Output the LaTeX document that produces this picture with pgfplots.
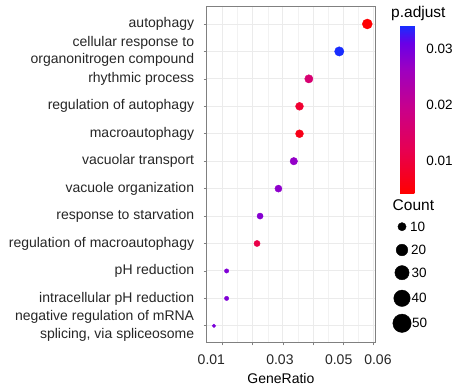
\documentclass[border=0pt]{standalone}
\usepackage{pgfplots}
\usepackage{pgfplotstable}
\pgfplotsset{compat=1.18}
\usepackage{fontspec}
\setmainfont{Liberation Sans}

\pgfplotstableread{
y ratio count padj
12 0.0580 16 0.0045
11 0.0487 14 0.0341
10 0.0386 11 0.0160
9  0.0355 10 0.0088
8  0.0355 10 0.0064
7  0.0336 9  0.0272
6  0.0285 8  0.0278
5  0.0224 6  0.0285
4  0.0214 6  0.0110
3  0.0113 3  0.0290
2  0.0113 3  0.0290
1  0.0071 2  0.0295
}\godata

\pgfplotstableread{
x y count lx
402 160.3 10 410.0
402 137.0 20 411.0
402 114.3 30 411.5
402 88.7 40 411.5
402 63.7 50 411.8
}\sizelegend

\pgfplotsset{colormap={padj}{rgb255(0cm)=(255,0,0) rgb255(5cm)=(232,0,79) rgb255(10cm)=(202,0,137) rgb255(15cm)=(155,0,195) rgb255(18cm)=(104,0,231) rgb255(20cm)=(25,45,255)}}

\newcommand{\axfont}{\fontsize{14}{17.3}\selectfont}
\newcommand{\lgtitle}{\fontsize{15.5}{18}\selectfont}
\newcommand{\lgfont}{\fontsize{13.5}{16}\selectfont}

\begin{document}
\begin{tikzpicture}
\useasboundingbox (0,0) rectangle (461pt,387pt);
\begin{axis}[
  at={(206.7pt,44.7pt)}, anchor=south west,
  scale only axis, width=168.3pt, height=335.6pt,
  xmin=0.00469, xmax=0.06056, ymin=0.4, ymax=12.63,
  xtick={0.01,0.02,0.03,0.04,0.05,0.06},
  scaled x ticks=false, scaled y ticks=false,
  xticklabels={\makebox[0pt][r]{0.01\kern-2.3pt},,\makebox[0pt]{0.03\kern6pt},,\makebox[0pt]{0.05\kern9pt},\makebox[0pt][l]{\kern-9pt0.06}},
  minor x tick num=1,
  ytick={1,...,12},
  yticklabels={{negative regulation of mRNA\\splicing, via spliceosome},
    intracellular pH reduction, pH reduction, regulation of macroautophagy,
    response to starvation, vacuole organization, vacuolar transport,
    macroautophagy, regulation of autophagy, rhythmic process,
    {cellular response to\\organonitrogen compound}, autophagy},
  grid=both,
  major grid style={color=black!8, line width=0.9pt},
  minor grid style={color=black!5, line width=0.6pt},
  axis line style={black!50, line width=0.7pt},
  tick style={black!50, line width=0.7pt},
  major tick length=3pt, minor tick length=0pt, tick align=outside,
  xtick pos=bottom, ytick pos=left,
  xticklabel style={anchor=north, inner sep=0pt, yshift=-9.4pt, font=\axfont, text=black!85},
  yticklabel style={anchor=east, inner sep=0pt, xshift=-9.4pt, align=right, font=\axfont, text=black!85},
  xlabel={GeneRatio},
  every axis x label/.style={at={(axis description cs:0.441,0)}, anchor=base, yshift=-41pt, inner sep=0pt, font=\axfont, text=black},
  colormap name=padj,
  point meta min=0.0042, point meta max=0.0341,
  colorbar,
  colorbar style={
    at={(parent axis.north east)}, anchor=north west,
    xshift=16.7pt, yshift=-19.3pt,
    scale only axis, width=20pt, height=167.3pt,
    scaled y ticks=false,
    ytick={0.01,0.02,0.03}, yticklabels={0.01,0.02,0.03},
    yticklabel pos=right, ytick pos=right,
    yticklabel style={anchor=west, inner sep=0pt, xshift=6pt, font=\lgfont, text=black},
    tick align=inside, major tick length=4pt,
    ytick style={color=white, opacity=0.8, line width=0.8pt},
    axis line style={draw=none},
    axis on top,
  },
]
\addplot[scatter, only marks, mark=*, point meta=explicit,
  scatter/use mapped color={draw=mapped color, fill=mapped color},
  visualization depends on={1.25*sqrt(\thisrow{count}) \as \psize},
  scatter/@pre marker code/.append style={/tikz/mark size=\psize}]
  table[x=ratio, y=y, meta=padj] {\godata};
\end{axis}

\begin{axis}[
  at={(0pt,0pt)}, anchor=south west,
  scale only axis, width=461pt, height=387pt,
  xmin=0, xmax=461, ymin=0, ymax=387,
  hide axis, clip=false,
]
\addplot[scatter, only marks, mark=*, point meta=explicit,
  scatter/use mapped color={draw=black, fill=black},
  visualization depends on={1.3*sqrt(\thisrow{count}) \as \psize},
  scatter/@pre marker code/.append style={/tikz/mark size=\psize}]
  table[x=x, y=y, meta=count] {\sizelegend};
\addplot[only marks, mark=none, point meta=explicit symbolic,
  nodes near coords={\pgfplotspointmeta},
  every node near coord/.append style={anchor=west, inner sep=0pt, font=\lgfont, text=black}]
  table[x=lx, y=y, meta=count] {\sizelegend};
\node[anchor=base west, inner sep=0pt, font=\lgtitle] at (axis cs:391,369.7) {p.adjust};
\node[anchor=base west, inner sep=0pt, font=\lgtitle] at (axis cs:392.5,176.5) {Count};
\end{axis}
\end{tikzpicture}
\end{document}
